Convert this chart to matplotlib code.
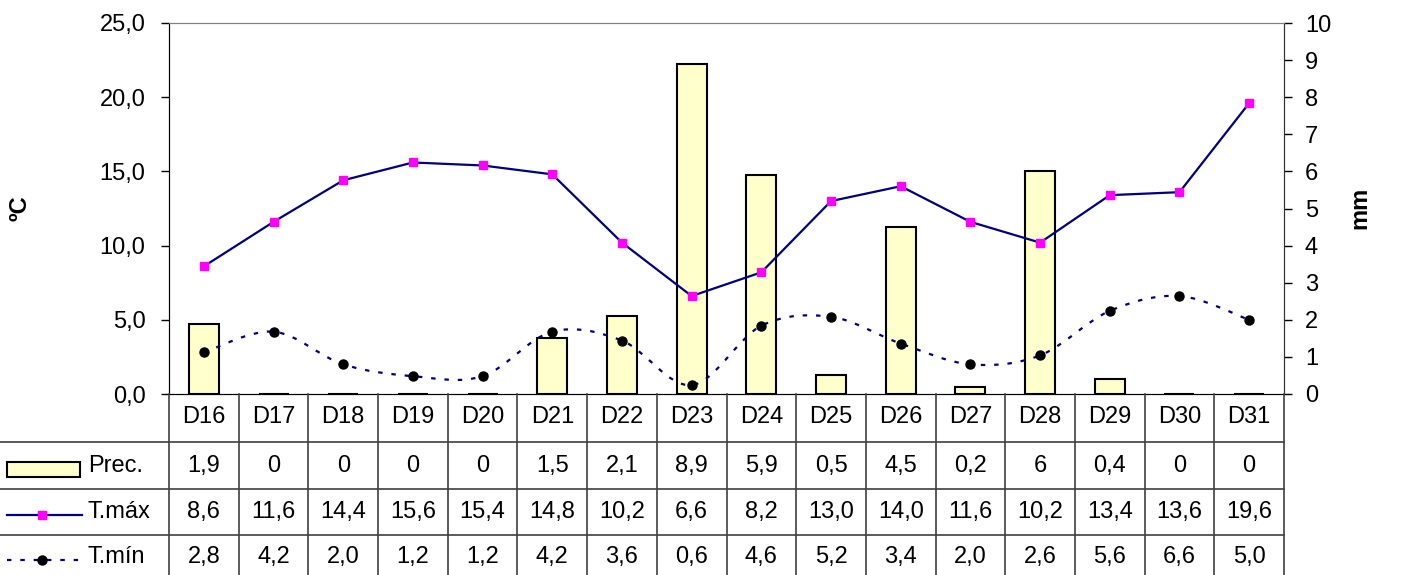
import matplotlib
matplotlib.use("Agg")
import matplotlib.pyplot as plt
import numpy as np
from matplotlib.path import Path
from matplotlib.patches import PathPatch, Rectangle
from matplotlib.lines import Line2D
from matplotlib.ticker import FuncFormatter, MultipleLocator
from matplotlib.transforms import blended_transform_factory

plt.rcParams["font.family"] = ["Liberation Sans", "DejaVu Sans"]

days = ["D16", "D17", "D18", "D19", "D20", "D21", "D22", "D23",
        "D24", "D25", "D26", "D27", "D28", "D29", "D30", "D31"]
prec = [1.9, 0, 0, 0, 0, 1.5, 2.1, 8.9, 5.9, 0.5, 4.5, 0.2, 6, 0.4, 0, 0]
t_max = [8.6, 11.6, 14.4, 15.6, 15.4, 14.8, 10.2, 6.6, 8.2, 13.0, 14.0, 11.6, 10.2, 13.4, 13.6, 19.6]
t_min = [2.8, 4.2, 2.0, 1.2, 1.2, 4.2, 3.6, 0.6, 4.6, 5.2, 3.4, 2.0, 2.6, 5.6, 6.6, 5.0]

W, H = 1401, 575
FS = 17


def fy(py):
    # pixel row -> figure fraction
    return 1 - py / H


def comma(v, nd=1):
    return f"{v:.{nd}f}".replace(".", ",")


def prec_fmt(v):
    return str(int(v)) if float(v).is_integer() else comma(v)


def smooth_path(x, y):
    # Excel-style smoothed line as cubic Bezier segments
    x = np.asarray(x, float)
    y = np.asarray(y, float)
    px = np.r_[x[0], x, x[-1]]
    py = np.r_[y[0], y, y[-1]]
    verts = [(x[0], y[0])]
    codes = [Path.MOVETO]
    for i in range(len(x) - 1):
        j = i + 1
        c1 = (px[j] + (px[j + 1] - px[j - 1]) / 6, py[j] + (py[j + 1] - py[j - 1]) / 6)
        c2 = (px[j + 1] - (px[j + 2] - px[j]) / 6, py[j + 1] - (py[j + 2] - py[j]) / 6)
        verts += [c1, c2, (x[j], y[j])]
        codes += [Path.CURVE4] * 3
    return Path(verts, codes)


fig = plt.figure(figsize=(W / 100, H / 100), dpi=100)
x0, x1, y0, y1 = 169, 1284, 23, 394
ax = fig.add_axes([x0 / W, fy(y1), (x1 - x0) / W, (y1 - y0) / H])
ax2 = ax.twinx()
ax.set_zorder(ax2.get_zorder() + 1)
ax.patch.set_visible(False)

idx = np.arange(len(days))

# precipitation bars on secondary axis
ax2.bar(idx, prec, width=0.43, color="#FFFFCC", edgecolor="black", linewidth=1.5)
ax2.set_ylim(0, 10)
ax2.yaxis.set_major_locator(MultipleLocator(1))
ax2.tick_params(axis="y", direction="out", length=6, width=1, pad=9, labelsize=FS)
ax2.set_xlim(-0.5, len(days) - 0.5)

# temperature lines
ax.plot(idx, t_max, color="#000080", linewidth=1.6, marker="s", markersize=6,
        markerfacecolor="#FF00FF", markeredgecolor="#FF00FF")
ax.add_patch(PathPatch(smooth_path(idx, t_min), fill=False, edgecolor="#000080",
                       linewidth=1.6, linestyle=(0, (2, 4))))
ax.plot(idx, t_min, linestyle="none", marker="o", markersize=6.5, color="black")

ax.set_xlim(-0.5, len(days) - 0.5)
ax.set_ylim(0, 25)
ax.yaxis.set_major_locator(MultipleLocator(5))
ax.yaxis.set_major_formatter(FuncFormatter(lambda v, p: comma(v)))
ax.tick_params(axis="y", direction="out", length=6, width=1, pad=11, labelsize=FS)
ax.set_xticks([])
ax2.set_xticks([])

for a in (ax, ax2):
    a.spines["top"].set_color("#808080")
    a.spines["left"].set_color("black")
    a.spines["right"].set_color("#333333")
    a.spines["bottom"].set_color("black")

fig.text(20 / W, fy(208), "ºC", rotation=90, ha="center", va="center",
         fontsize=FS, fontweight="bold")
fig.text(1360 / W, fy(208), "mm", rotation=90, ha="center", va="center",
         fontsize=FS, fontweight="bold")

# data table below the plot
tb = blended_transform_factory(ax.transData, fig.transFigure)
line_col = "#404040"
for b in np.arange(len(days) + 1) - 0.5:
    fig.add_artist(Line2D([b, b], [fy(y1), fy(H + 5)], transform=tb,
                          color=line_col, linewidth=1.2, clip_on=False))
for ry in (442, 489, 535):
    fig.add_artist(Line2D([0, x1 / W], [fy(ry), fy(ry)], color=line_col, linewidth=1.2))

rows = [
    ("Prec.", [prec_fmt(v) for v in prec], 466),
    ("T.máx", [comma(v) for v in t_max], 512),
    ("T.mín", [comma(v) for v in t_min], 557),
]
for i, d in enumerate(days):
    fig.text(i, fy(417), d, transform=tb, ha="center", va="center", fontsize=FS)
for name, vals, ry in rows:
    fig.text(88 / W, fy(ry), name, ha="left", va="center", fontsize=FS)
    for i, s in enumerate(vals):
        fig.text(i, fy(ry), s, transform=tb, ha="center", va="center", fontsize=FS)

# legend keys inside the table
fig.add_artist(Rectangle((7 / W, fy(477)), 73 / W, 15 / H, transform=fig.transFigure,
                         facecolor="#FFFFCC", edgecolor="black", linewidth=1.5))
fig.add_artist(Line2D([7 / W, 82 / W], [fy(515), fy(515)], color="#000080", linewidth=1.6))
fig.add_artist(Line2D([42 / W], [fy(515)], linestyle="none", marker="s", markersize=6,
                      color="#FF00FF"))
fig.add_artist(Line2D([7 / W, 82 / W], [fy(560), fy(560)], color="#000080",
                      linewidth=1.6, linestyle=(0, (2, 4))))
fig.add_artist(Line2D([42 / W], [fy(560)], linestyle="none", marker="o", markersize=6.5,
                      color="black"))

fig.savefig("out.png", dpi=100)
